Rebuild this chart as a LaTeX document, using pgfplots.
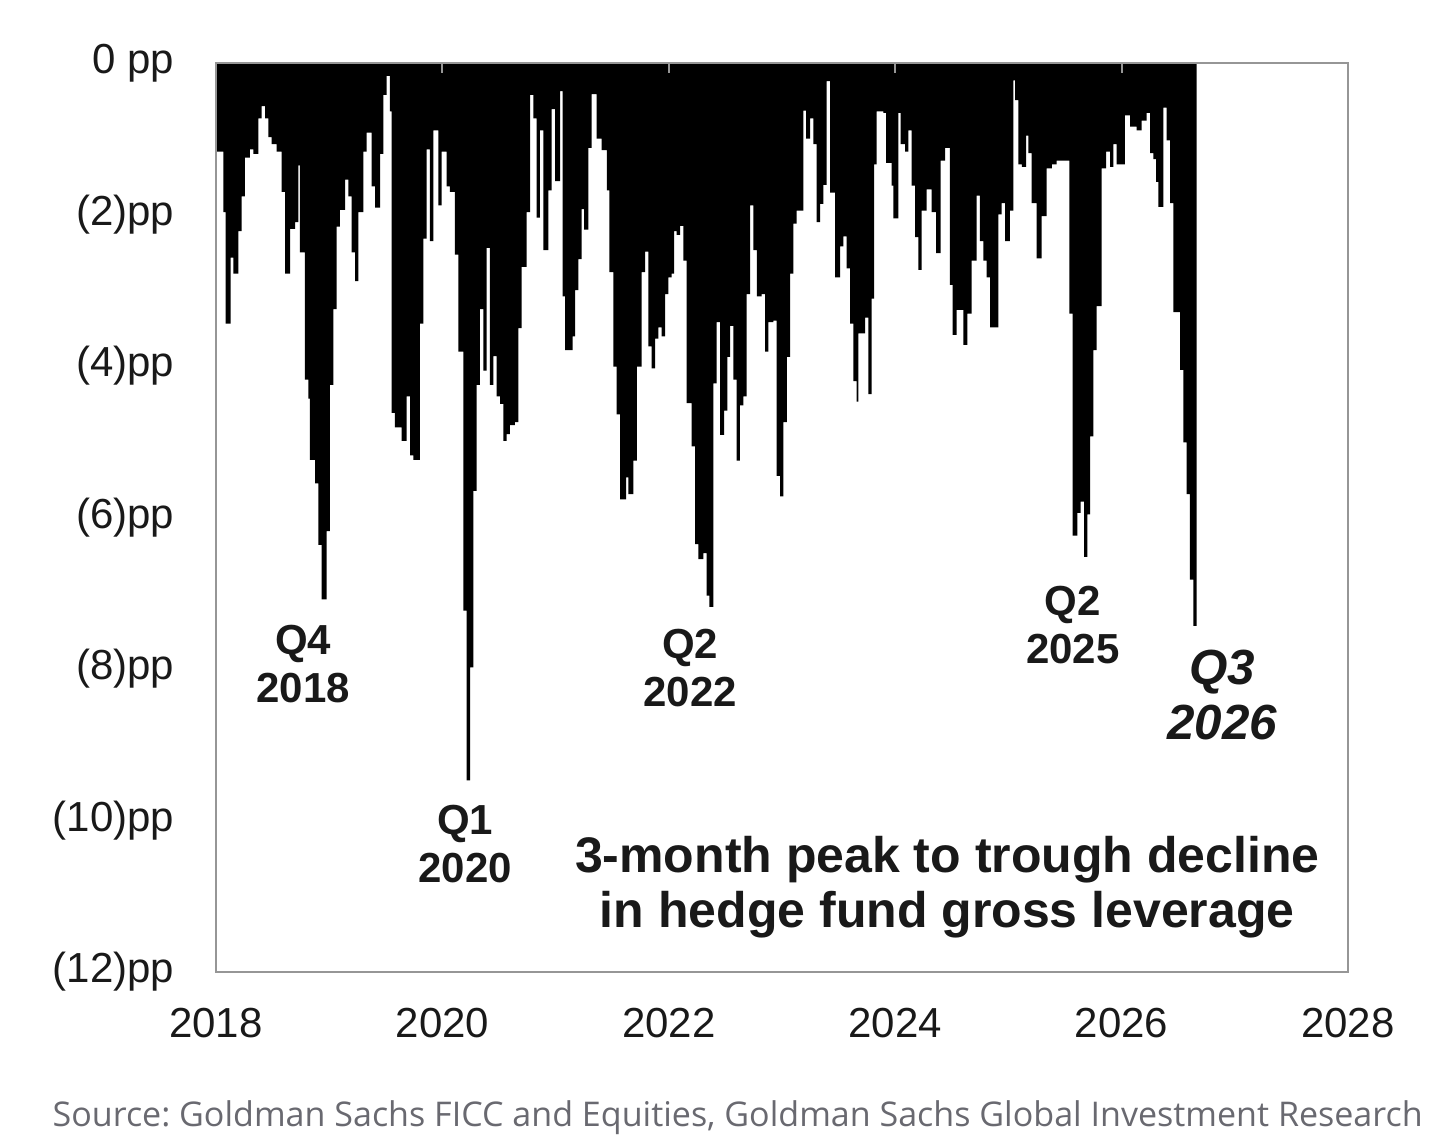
\documentclass[border=0pt]{standalone}
\usepackage{pgfplots}
\pgfplotsset{compat=1.18}
\usepackage{fontspec}
\setmainfont{Liberation Sans}
\newfontfamily\srcfont{Open Sans}
\definecolor{framegray}{RGB}{150,150,150}
\definecolor{srcgray}{RGB}{105,105,112}
\definecolor{txt}{RGB}{25,25,25}
\frenchspacing
\begin{document}
\begin{tikzpicture}
\path[use as bounding box] (-64.8pt,-51pt) rectangle (364.8pt,291.6pt);
\begin{axis}[
  at={(0,0)}, anchor=south west,
  scale only axis, width=339.6pt, height=272.7pt,
  xmin=2018, xmax=2028, ymin=-12, ymax=0,
  clip=false, axis on top=true,
  axis line style={framegray, line width=0.6pt},
  xtick={2018,2020,2022,2024,2026,2028},
  xticklabels={2018,2020,2022,2024,2026,2028},
  xtick pos=upper, xticklabel pos=lower,
  tick align=inside, major tick length=3pt,
  xtick style={framegray, line width=0.6pt},
  ytick={0,-2,-4,-6,-8,-10,-12},
  yticklabels={0 pp,(2)pp,(4)pp,(6)pp,(8)pp,(10)pp,(12)pp},
  ytick style={draw=none},
  /pgf/number format/assume math mode=true,
  tick label style={font=\fontsize{12.6}{15}\selectfont, text=txt},
  yticklabel style={anchor=east, inner sep=0pt, xshift=-12.3pt},
  xticklabel style={anchor=north, inner sep=0pt, yshift=-10.8pt},
]
\addplot[fill=black, draw=none, const plot mark left] coordinates {
(2018.000,-1.82) (2018.006,-1.17) (2018.065,-1.97) (2018.085,-3.44) (2018.130,-2.57)
(2018.153,-2.78) (2018.197,-2.22) (2018.227,-1.76) (2018.256,-1.25) (2018.300,-1.14)
(2018.330,-1.20) (2018.374,-0.73) (2018.403,-0.57) (2018.433,-0.73) (2018.462,-0.98)
(2018.492,-1.07) (2018.536,-1.17) (2018.580,-1.70) (2018.610,-2.78) (2018.654,-2.19)
(2018.698,-2.10) (2018.727,-1.35) (2018.742,-2.50) (2018.786,-4.18) (2018.816,-4.43)
(2018.830,-5.24) (2018.875,-5.55) (2018.904,-6.36) (2018.933,-7.08) (2018.978,-6.18)
(2019.007,-4.25) (2019.037,-3.25) (2019.066,-2.16) (2019.095,-1.94) (2019.140,-1.54)
(2019.169,-1.76) (2019.198,-2.50) (2019.228,-2.88) (2019.257,-1.97) (2019.302,-1.17)
(2019.331,-0.92) (2019.375,-1.63) (2019.405,-1.91) (2019.449,-1.20) (2019.478,-0.42)
(2019.508,-0.17) (2019.537,-0.64) (2019.552,-4.62) (2019.581,-4.81) (2019.640,-4.99)
(2019.684,-4.40) (2019.714,-5.18) (2019.743,-5.24) (2019.802,-3.44) (2019.832,-2.32)
(2019.861,-1.14) (2019.890,-2.35) (2019.920,-0.89) (2019.964,-1.88) (2019.994,-1.17)
(2020.038,-1.63) (2020.067,-1.70) (2020.111,-2.53) (2020.141,-3.81) (2020.185,-7.23)
(2020.214,-9.47) (2020.244,-7.98) (2020.273,-5.65) (2020.303,-4.25) (2020.332,-3.25)
(2020.362,-4.06) (2020.391,-2.44) (2020.420,-4.25) (2020.450,-3.87) (2020.479,-4.40)
(2020.509,-4.50) (2020.538,-4.99) (2020.568,-4.90) (2020.597,-4.78) (2020.641,-4.74)
(2020.671,-3.50) (2020.700,-2.69) (2020.744,-1.97) (2020.774,-0.42) (2020.803,-0.73)
(2020.833,-2.04) (2020.862,-0.89) (2020.892,-2.47)
(2020.936,-1.68) (2020.966,-0.61) (2020.995,-1.56) (2021.039,-0.37) (2021.063,-3.08)
(2021.084,-3.79) (2021.151,-3.61) (2021.172,-3.00) (2021.201,-2.59) (2021.231,-1.93)
(2021.251,-2.20) (2021.290,-1.12) (2021.319,-0.41) (2021.363,-1.00) (2021.407,-1.15)
(2021.452,-1.68) (2021.475,-2.76) (2021.511,-4.01) (2021.540,-4.64) (2021.569,-5.76)
(2021.622,-5.47) (2021.643,-5.69) (2021.687,-5.25) (2021.717,-4.01) (2021.761,-2.76)
(2021.790,-2.49) (2021.820,-3.74) (2021.849,-4.03) (2021.879,-3.64) (2021.908,-3.49)
(2021.937,-3.61) (2021.967,-3.05) (2021.996,-2.83) (2022.026,-2.78) (2022.046,-2.22)
(2022.070,-2.27) (2022.099,-2.15) (2022.129,-2.61) (2022.158,-4.49) (2022.202,-5.06)
(2022.232,-6.35) (2022.261,-6.55) (2022.306,-6.47) (2022.335,-7.03) (2022.359,-7.18)
(2022.394,-4.23) (2022.423,-3.42) (2022.453,-4.91) (2022.488,-4.59) (2022.518,-3.88)
(2022.541,-3.47) (2022.571,-4.18) (2022.600,-5.25) (2022.629,-4.52) (2022.659,-4.40)
(2022.688,-3.05) (2022.718,-1.88) (2022.747,-2.47) (2022.777,-3.08) (2022.821,-3.05)
(2022.850,-3.81) (2022.880,-3.42) (2022.924,-3.40) (2022.953,-5.45) (2022.983,-5.72)
(2023.012,-4.74) (2023.042,-3.88) (2023.071,-2.78) (2023.101,-2.12) (2023.130,-1.95)
(2023.189,-0.63) (2023.213,-1.00) (2023.248,-0.73) (2023.277,-1.07) (2023.307,-2.10)
(2023.336,-1.86) (2023.366,-1.61) (2023.395,-0.24) (2023.425,-1.71) (2023.469,-2.83)
(2023.513,-2.42) (2023.542,-2.29) (2023.572,-2.71) (2023.601,-3.44) (2023.631,-4.20)
(2023.660,-4.47)
(2023.675,-3.57) (2023.734,-3.36) (2023.763,-4.37) (2023.792,-3.11) (2023.813,-1.34)
(2023.837,-0.64) (2023.895,-0.66) (2023.919,-1.32) (2023.969,-1.62) (2023.984,-2.05)
(2024.028,-0.66) (2024.049,-1.07) (2024.087,-1.17) (2024.116,-0.89) (2024.146,-1.62)
(2024.175,-2.30) (2024.205,-2.73) (2024.234,-1.95) (2024.278,-1.67) (2024.322,-1.97)
(2024.361,-2.51) (2024.402,-1.29) (2024.440,-1.12) (2024.484,-2.93) (2024.508,-3.59)
(2024.543,-3.26) (2024.602,-3.72) (2024.638,-3.31) (2024.676,-2.61) (2024.720,-1.75)
(2024.749,-2.35) (2024.779,-2.61) (2024.808,-2.83) (2024.838,-3.49) (2024.911,-2.00)
(2024.941,-1.85) (2024.970,-2.35) (2025.014,-1.95) (2025.044,-0.23) (2025.059,-0.49)
(2025.088,-1.34) (2025.118,-1.37) (2025.156,-0.96) (2025.177,-1.19) (2025.206,-1.85)
(2025.250,-2.58) (2025.294,-2.02) (2025.338,-1.39) (2025.383,-1.34) (2025.427,-1.29)
(2025.486,-1.29) (2025.539,-3.31) (2025.568,-6.24) (2025.609,-5.94) (2025.639,-5.79)
(2025.668,-6.52) (2025.698,-5.96) (2025.721,-4.93) (2025.751,-3.79) (2025.780,-3.21)
(2025.824,-1.39) (2025.863,-1.17) (2025.898,-1.37) (2025.927,-1.07) (2025.957,-1.34)
(2026.030,-0.69) (2026.075,-0.84) (2026.133,-0.89) (2026.178,-0.76) (2026.222,-0.66)
(2026.251,-1.19) (2026.281,-1.27) (2026.304,-1.57) (2026.325,-1.90) (2026.369,-0.59)
(2026.398,-1.02) (2026.428,-1.85) (2026.457,-3.29) (2026.516,-4.05) (2026.546,-5.01)
(2026.575,-5.69) (2026.604,-6.82) (2026.634,-7.43) (2026.663,-7.43)
} \closedcycle;
\node[align=center, text=txt, font=\bfseries\fontsize{12.6}{14.4}\selectfont] at (axis cs:2018.77,-7.93) {Q4\\2018};
\node[align=center, text=txt, font=\bfseries\fontsize{12.6}{14.4}\selectfont] at (axis cs:2020.20,-10.31) {Q1\\2020};
\node[align=center, text=txt, font=\bfseries\fontsize{12.6}{14.4}\selectfont] at (axis cs:2022.19,-7.99) {Q2\\2022};
\node[align=center, text=txt, font=\bfseries\fontsize{12.6}{14.4}\selectfont] at (axis cs:2025.57,-7.42) {Q2\\2025};
\node[align=center, text=txt, font=\bfseries\itshape\fontsize{14.8}{16.5}\selectfont] at (axis cs:2026.89,-8.34) {Q3\\2026};
\node[align=center, text=txt, font=\bfseries\fontsize{15}{16.5}\selectfont] at (axis cs:2024.46,-10.88) {3-month peak to trough decline\\in hedge fund gross leverage};
\end{axis}
\node[anchor=base west, inner sep=0pt, text=srcgray] at (-49.2pt,-46.5pt) {\resizebox{411pt}{!}{\srcfont Source: Goldman Sachs FICC and Equities, Goldman Sachs Global Investment Research}};
\end{tikzpicture}
\end{document}
